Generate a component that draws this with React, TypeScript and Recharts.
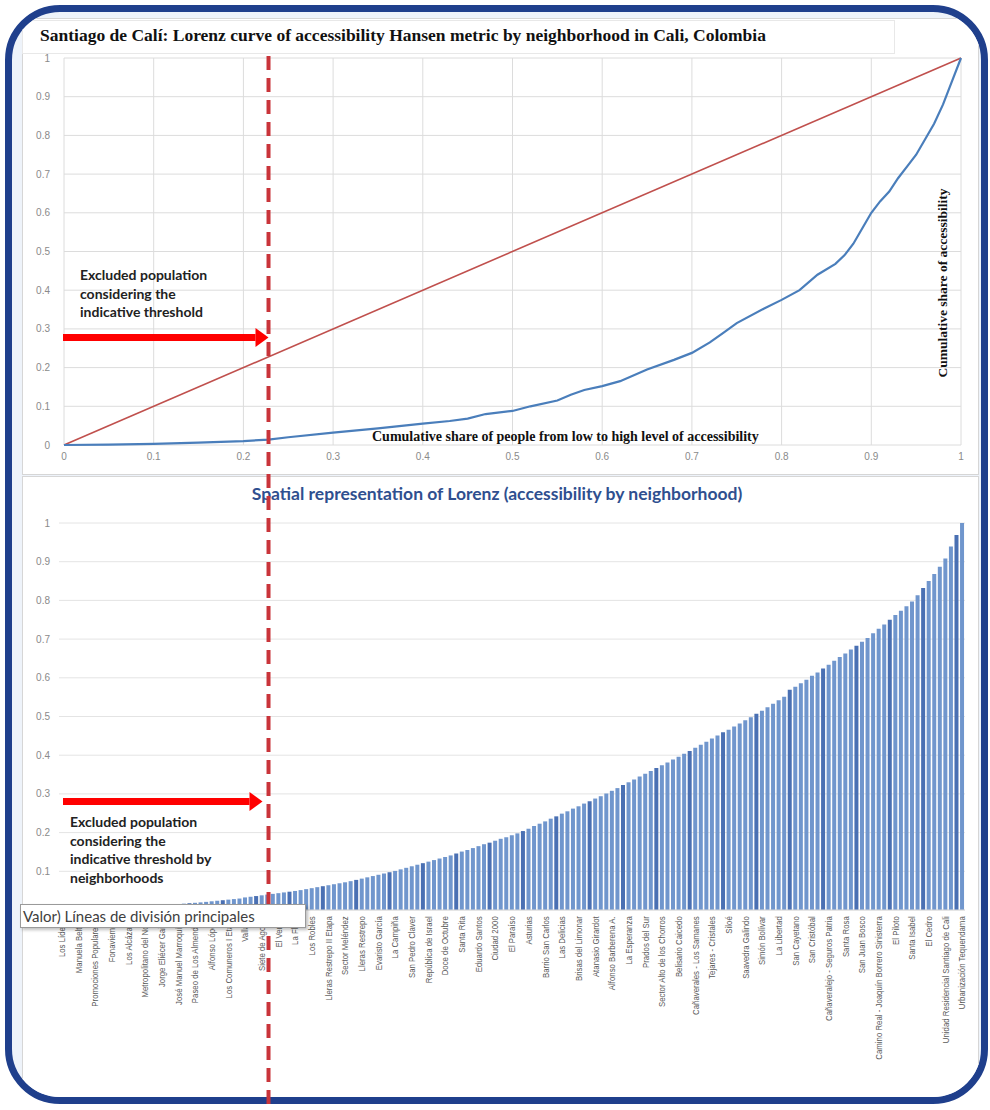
import { LineChart, Line, BarChart, Bar, Cell, XAxis, YAxis, CartesianGrid } from 'recharts';

// shared 0..1 ticks for both panels
const shareTicks = [0, 0.1, 0.2, 0.3, 0.4, 0.5, 0.6, 0.7, 0.8, 0.9, 1];
// the bottom panel's 0 label is hidden under the hover box in the original
const barTicks = [0.1, 0.2, 0.3, 0.4, 0.5, 0.6, 0.7, 0.8, 0.9, 1];

// Lorenz curve
const lorenzX = [
  0, 0.05, 0.1, 0.15, 0.2, 0.228, 0.25, 0.3, 0.35, 0.4,
  0.43, 0.45, 0.47, 0.5, 0.52, 0.55, 0.565, 0.58, 0.6, 0.62,
  0.65, 0.68, 0.7, 0.72, 0.735, 0.75, 0.78, 0.8, 0.82, 0.84,
  0.86, 0.87, 0.88, 0.89, 0.9, 0.91, 0.92, 0.93, 0.94, 0.95,
  0.96, 0.97, 0.98, 0.99, 1,
];
const lorenzY = [
  0, 0.001, 0.003, 0.006, 0.01, 0.014, 0.02, 0.032, 0.043, 0.055,
  0.062, 0.068, 0.08, 0.088, 0.1, 0.115, 0.13, 0.142, 0.152, 0.165,
  0.195, 0.22, 0.238, 0.265, 0.29, 0.315, 0.352, 0.375, 0.4, 0.44,
  0.468, 0.49, 0.52, 0.56, 0.6, 0.63, 0.655, 0.69, 0.72, 0.75,
  0.79, 0.83, 0.88, 0.94, 1,
];

// line of equality
const equalityX = [0, 1];
const equalityY = [0, 1];

const threshold = 0.228;

// labelled neighborhoods (every third bar carries a label)
const neighborhoods = [
  'Los Líderes', 'Manuela Beltrán', 'Promociones Populares B', 'Fonaviemcali', 'Los Alcázares',
  'Metropolitano del Norte', 'Jorge Eliécer Gaitán', 'José Manuel Marroquín II', 'Paseo de Los Almendros',
  'Alfonso López I', 'Los Comuneros I Etapa', 'Vallado', 'Siete de Agosto', 'El Vergel', 'La Flora',
  'Los Robles', 'Lleras Restrepo II Etapa', 'Sector Meléndez', 'Lleras Restrepo', 'Evaristo García',
  'La Campiña', 'San Pedro Claver', 'República de Israel', 'Doce de Octubre', 'Santa Rita',
  'Eduardo Santos', 'Ciudad 2000', 'El Paraíso', 'Asturias', 'Barrio San Carlos', 'Las Delicias',
  'Brisas del Limonar', 'Atanasio Girardot', 'Alfonso Barberena A.', 'La Esperanza', 'Prados del Sur',
  'Sector Alto de los Chorros', 'Belisario Caicedo', 'Cañaverales - Los Samanes', 'Tejares - Cristales',
  'Siloé', 'Saavedra Galindo', 'Simón Bolívar', 'La Libertad', 'San Cayetano', 'San Cristóbal',
  'Cañaveralejo - Seguros Patria', 'Santa Rosa', 'San Juan Bosco',
  'Camino Real - Joaquín Borrero Sinisterra', 'El Piloto', 'Santa Isabel', 'El Cedro',
  'Unidad Residencial Santiago de Cali', 'Urbanización Tequendama',
];

// accessibility share per neighborhood, sorted low -> high
const barValues = [
  0.001, 0.0015, 0.002, 0.0023, 0.0027, 0.003, 0.0035, 0.004, 0.0046, 0.0053,
  0.0059, 0.0066, 0.0072, 0.0079, 0.0086, 0.0092, 0.0099, 0.011, 0.012, 0.0131,
  0.0142, 0.0153, 0.0164, 0.0175, 0.0186, 0.0197, 0.021, 0.0225, 0.0239, 0.0253,
  0.0268, 0.0282, 0.0296, 0.0325, 0.0342, 0.036, 0.0379, 0.0398, 0.0417, 0.0435,
  0.0454, 0.0473, 0.0492, 0.0514, 0.0539, 0.0564, 0.059, 0.0615, 0.064, 0.0666,
  0.0691, 0.0716, 0.0745, 0.0778, 0.0811, 0.0844, 0.0877, 0.091, 0.0943, 0.0976,
  0.101, 0.105, 0.109, 0.113, 0.117, 0.121, 0.125, 0.129, 0.133, 0.137,
  0.141, 0.146, 0.151, 0.155, 0.16, 0.165, 0.17, 0.174, 0.179, 0.184,
  0.188, 0.193, 0.198, 0.204, 0.21, 0.217, 0.223, 0.229, 0.236, 0.242,
  0.249, 0.255, 0.262, 0.268, 0.275, 0.281, 0.288, 0.294, 0.301, 0.308,
  0.315, 0.323, 0.33, 0.337, 0.345, 0.352, 0.359, 0.367, 0.374, 0.381,
  0.389, 0.396, 0.404, 0.411, 0.419, 0.427, 0.435, 0.443, 0.451, 0.459,
  0.466, 0.474, 0.482, 0.49, 0.498, 0.507, 0.515, 0.524, 0.533, 0.542,
  0.551, 0.569, 0.577, 0.586, 0.595, 0.605, 0.614, 0.624, 0.634, 0.644,
  0.654, 0.663, 0.673, 0.683, 0.693, 0.703, 0.715, 0.727, 0.738, 0.75,
  0.762, 0.773, 0.785, 0.797, 0.813, 0.832, 0.85, 0.868, 0.887, 0.908,
  0.939, 0.969, 1.0,
];

const lorenzData = lorenzX.map((x, i) => {
  const k = equalityX.indexOf(x);
  return { x, lorenz: lorenzY[i], eq: k >= 0 ? equalityY[k] : null };
});

const barData = barValues.map((value, i) => ({
  idx: i,
  label: i % 3 === 0 ? neighborhoods[i / 3] : '',
  value,
}));

const fmt = (v: number) => String(Math.round(v * 10) / 10);

// top plot geometry (used to place the threshold annotation)
const TOP_LEFT = 64;
const TOP_RIGHT = 961;
const thresholdPx = TOP_LEFT + threshold * (TOP_RIGHT - TOP_LEFT);

const serif = "'Liberation Serif', 'DejaVu Serif', serif";
const sans = "Lato, 'Open Sans', sans-serif";
const tickStyle = { fill: '#8a8a8a', fontSize: 10, fontFamily: "'Liberation Sans', Arial, sans-serif" };

function NeighborhoodTick({ x, y, payload }: any) {
  const label = barData[payload.index]?.label;
  if (!label) return <g />;
  return (
    <g transform={`translate(${x},${y})`}>
      <text
        transform="rotate(-90) scale(0.87,1)"
        textAnchor="end"
        x={2}
        dy="0.35em"
        fontSize={9}
        fill="#5a5a5a"
        fontFamily="'Liberation Sans', Arial, sans-serif"
      >
        {label}
      </text>
    </g>
  );
}

export default function App() {
  return (
    <div style={{ position: 'absolute', left: 0, top: 0, width: 990, height: 1110, background: '#fff', overflow: 'hidden' }}>
      {/* rounded frame with the two white panels */}
      <div
        style={{
          position: 'absolute', left: 5, top: 5, width: 983, height: 1099,
          border: '7px solid #1f3f8c', borderRadius: 55, boxSizing: 'border-box',
          background: '#eef3fa', overflow: 'hidden',
        }}
      >
        <div style={{ position: 'absolute', left: 10, top: 6, width: 955, height: 455, background: '#fff', border: '1px solid #d6d6d6' }} />
        <div style={{ position: 'absolute', left: 10, top: 464, width: 955, height: 640, background: '#fff', border: '1px solid #d6d6d6' }} />
        <div style={{ position: 'absolute', left: 10, top: 8, width: 871, height: 32, border: '1px solid #e8e8e8' }} />
      </div>

      {/* top: Lorenz curve */}
      <div style={{ position: 'absolute', left: 0, top: 0 }}>
        <LineChart width={990} height={480} data={lorenzData} margin={{ top: 58, right: 990 - TOP_RIGHT, bottom: 0, left: 0 }}>
          <CartesianGrid stroke="#dcdcdc" />
          <XAxis
            dataKey="x"
            type="number"
            domain={[0, 1]}
            ticks={shareTicks}
            tickFormatter={fmt}
            height={35}
            axisLine={false}
            tickLine={false}
            tickMargin={2}
            tick={tickStyle}
          />
          <YAxis
            type="number"
            domain={[0, 1]}
            ticks={shareTicks}
            tickFormatter={fmt}
            width={TOP_LEFT}
            axisLine={false}
            tickLine={false}
            tickMargin={8}
            tick={tickStyle}
          />
          <Line dataKey="eq" type="linear" stroke="#c0504d" strokeWidth={1.6} dot={false} activeDot={false} connectNulls isAnimationActive={false} />
          <Line dataKey="lorenz" type="linear" stroke="#4a7ebb" strokeWidth={2.2} dot={false} activeDot={false} isAnimationActive={false} />
        </LineChart>
      </div>

      {/* bottom: one bar per neighborhood */}
      <div style={{ position: 'absolute', left: 0, top: 500 }}>
        <BarChart width={990} height={610} data={barData} margin={{ top: 23, right: 25, bottom: 0, left: 0 }} barCategoryGap={0.6}>
          <CartesianGrid stroke="#e4e4e4" vertical={false} />
          <XAxis
            dataKey="idx"
            type="category"
            interval={0}
            height={200}
            axisLine={{ stroke: '#d9d9d9' }}
            tickLine={false}
            tick={<NeighborhoodTick />}
          />
          <YAxis
            type="number"
            domain={[0, 1]}
            ticks={barTicks}
            tickFormatter={fmt}
            width={59}
            axisLine={false}
            tickLine={false}
            tickMargin={3}
            tick={tickStyle}
          />
          <Bar dataKey="value" fill="#7096cd" isAnimationActive={false}>
            {barData.map((d) => (
              <Cell key={d.idx} fill={d.idx % 6 === 5 ? '#4a70b3' : '#7096cd'} />
            ))}
          </Bar>
        </BarChart>
      </div>

      {/* titles */}
      <div style={{ position: 'absolute', left: 40, top: 25, fontFamily: serif, fontWeight: 700, fontSize: 17.5, lineHeight: '20px', color: '#111', whiteSpace: 'nowrap' }}>
        Santiago de Calí: Lorenz curve of accessibility Hansen metric by neighborhood in Cali, Colombia
      </div>
      <div style={{ position: 'absolute', left: 372, top: 429, fontFamily: serif, fontWeight: 700, fontSize: 14, lineHeight: '16px', color: '#111', whiteSpace: 'nowrap' }}>
        Cumulative share of people from low to high level of accessibility
      </div>
      <div
        style={{
          position: 'absolute', left: 942, top: 283, transform: 'translate(-50%, -50%) rotate(-90deg)',
          fontFamily: serif, fontWeight: 700, fontSize: 13.5, lineHeight: '15px', color: '#111', whiteSpace: 'nowrap',
        }}
      >
        Cumulative share of accessibility
      </div>
      <div
        style={{
          position: 'absolute', left: 497, top: 483, transform: 'translateX(-50%)',
          fontFamily: sans, fontWeight: 700, fontSize: 17.5, lineHeight: '22px', color: '#2f4f8f', whiteSpace: 'nowrap',
        }}
      >
        Spatial representation of Lorenz (accessibility by neighborhood)
      </div>

      {/* threshold annotations */}
      <svg width={990} height={1110} style={{ position: 'absolute', left: 0, top: 0, pointerEvents: 'none' }}>
        <line x1={thresholdPx} x2={thresholdPx} y1={56} y2={1104} stroke="#c9343a" strokeWidth={4} strokeDasharray="14 8" />
        <rect x={63} y={334} width={thresholdPx - 76} height={7} fill="#ff0000" />
        <polygon points={`${thresholdPx - 13},328 ${thresholdPx},337.5 ${thresholdPx - 13},347`} fill="#ff0000" />
        <rect x={63} y={798} width={thresholdPx - 82} height={7} fill="#ff0000" />
        <polygon points={`${thresholdPx - 19},792 ${thresholdPx - 6},801.5 ${thresholdPx - 19},811`} fill="#ff0000" />
      </svg>
      <div style={{ position: 'absolute', left: 80, top: 266, fontFamily: sans, fontWeight: 700, fontSize: 14, lineHeight: '18.5px', color: '#222' }}>
        Excluded population<br />considering the<br />indicative threshold
      </div>
      <div style={{ position: 'absolute', left: 70, top: 813, fontFamily: sans, fontWeight: 700, fontSize: 14, lineHeight: '18.5px', color: '#222' }}>
        Excluded population<br />considering the<br />indicative threshold by<br />neighborhoods
      </div>

      {/* leftover hover box from the spreadsheet */}
      <div
        style={{
          position: 'absolute', left: 20, top: 904, width: 286, height: 24, boxSizing: 'border-box',
          background: '#fff', border: '1px solid #9a9a9a', boxShadow: '2px 2px 3px rgba(0,0,0,0.25)',
          fontFamily: sans, fontSize: 15, lineHeight: '22px', color: '#404040', paddingLeft: 2, whiteSpace: 'nowrap',
        }}
      >
        Valor)  Líneas de división principales
      </div>
    </div>
  );
}
